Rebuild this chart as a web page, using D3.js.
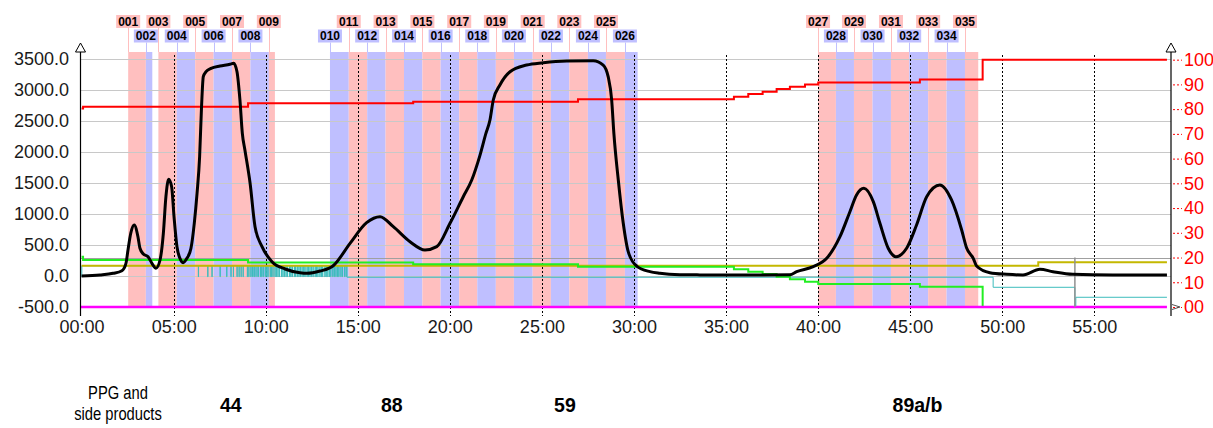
<!DOCTYPE html>
<html>
<head>
<meta charset="utf-8">
<script src="https://cdn.jsdelivr.net/npm/d3@7"></script>
<style>
  html, body { margin: 0; padding: 0; background: #fff; }
  svg { display: block; font-family: "Liberation Sans", Arial, sans-serif; }
</style>
</head>
<body>
<svg id="chart" width="1213" height="428"></svg>
<script>
// ---- Detector trace (left axis, mAU) ----
const signalTime = [0, 1.00, 1.71, 2.19, 2.41, 2.52, 2.67, 2.86, 3.06, 3.17, 3.35, 3.61, 3.82, 4.04, 4.26, 4.44, 4.58, 4.73, 4.89, 5.02, 5.18, 5.34, 5.51, 5.72, 5.94, 6.12, 6.27, 6.41, 6.51, 6.61, 6.76, 7.03, 7.52, 8.06, 8.26, 8.44, 8.60, 8.73, 8.87, 9.15, 9.42, 9.80, 10.34, 11.05, 11.86, 12.24, 12.95, 13.65, 14.58, 15.48, 16.21, 16.93, 17.84, 18.65, 19.29, 20.01, 20.73, 21.19, 21.64, 21.96, 22.18, 22.36, 22.72, 23.27, 24.17, 25.07, 26.35, 27.79, 28.33, 28.60, 28.79, 28.91, 29.15, 29.42, 29.69, 30.15, 30.87, 31.41, 32.50, 33.58, 36.30, 38.47, 38.84, 39.74, 40.47, 41.19, 41.73, 42.09, 42.49, 43.00, 43.36, 43.81, 44.23, 44.81, 45.35, 45.90, 46.62, 47.25, 47.80, 48.07, 48.43, 48.61, 49.33, 50.24, 51.13, 52.05, 52.76, 53.84, 56.01, 58.95];
const signalValue = [0, 16, 43, 86, 205, 419, 689, 823, 634, 447, 355, 311, 205, 124, 258, 689, 1279, 1560, 1440, 957, 473, 285, 215, 285, 447, 850, 1334, 1924, 2700, 3215, 3295, 3350, 3387, 3415, 3431, 3295, 2839, 2302, 2032, 1500, 795, 473, 231, 113, 53, 43, 80, 161, 527, 860, 957, 795, 553, 419, 473, 850, 1279, 1548, 1950, 2300, 2516, 2839, 3081, 3295, 3403, 3440, 3468, 3473, 3403, 3215, 2839, 2300, 1548, 850, 392, 161, 70, 43, 21, 18, 16, 21, 70, 150, 285, 634, 1037, 1307, 1415, 1199, 850, 447, 311, 447, 823, 1279, 1468, 1226, 742, 450, 285, 161, 53, 27, 16, 108, 69, 27, 16, 16];

// ---- Gradient %B (right axis), step program ----
const gradientTime = [0, 0.08, 9.04, 18.01, 26.96, 35.43, 36.21, 36.99, 37.75, 38.47, 39.29, 40.01, 45.53, 48.94, 58.95];
const gradientValue = [80.3, 81.0, 82.4, 83.0, 84.0, 85.0, 86.1, 87.0, 88.1, 89.1, 90.0, 90.8, 92.0, 100.0, 100.0];

// ---- Pressure trace (left axis) ----
const pressureTime = [0, 0.08, 9.04, 18.01, 26.96, 35.43, 36.21, 36.99, 37.75, 38.47, 39.29, 40.01, 45.53, 48.94, 58.95];
const pressureValue = [311, 258, 218, 189, 150, 108, 69, 32, -11, -53, -92, -129, -173, -484, -484];
const pressureEnd = 48.94;

// ---- Threshold trace (left axis) ----
const thresholdTime = [0, 51.96, 58.95];
const thresholdValue = [165, 221, 221];

// ---- Collector trace (left axis) ----
const collectorHigh = 165;
const collectorLow = -12;
const collectorDips = [0, 6.34, 6.85, 7.08, 7.52, 7.88, 8.11, 8.24, 8.44, 8.55, 8.66, 8.77,
  9.00, 9.08, 9.19, 9.27, 9.36, 9.41, 9.52, 9.60, 9.71, 9.78, 9.86, 9.97, 10.05, 10.12, 10.24, 10.31,
  10.39, 10.50, 10.57, 10.66, 10.74, 10.85, 10.93, 11.01, 11.10, 11.18, 11.29, 11.36, 11.44, 11.55,
  11.62, 11.71, 11.80, 11.88, 11.97, 12.06, 12.13, 12.24, 12.31, 12.40, 12.49, 12.57, 12.68, 12.75,
  12.83, 12.94, 13.02, 13.09, 13.21, 13.28, 13.37, 13.46, 13.53, 13.64, 13.72, 13.81, 13.90, 13.97,
  14.08, 14.16, 14.27, 14.36];
const collectorTailTime = [14.42, 49.51, 53.95, 54.00, 58.95];
const collectorTailValue = [-20, -182, -500, -343, -343];

// ---- Baseline marker (left axis) ----
const baselineValue = -500;
const markerTime = 53.95;

// ---- Fractions ----
const fractionIds = ["001","002","003","004","005","006","007","008","009","010","011","012","013","014","015","016","017","018","019","020","021","022","023","024","025","026","027","028","029","030","031","032","033","034","035"];
const fractionStart = [2.53, 3.49, 4.17, 5.17, 6.17, 7.17, 8.17, 9.17, 10.17, 13.49, 14.51, 15.51, 16.51, 17.51, 18.51, 19.50, 20.51, 21.49, 22.50, 23.48, 24.50, 25.49, 26.49, 27.50, 28.48, 29.51, 40.00, 40.97, 41.95, 42.96, 43.96, 44.95, 45.98, 46.98, 47.98];
const fractionEnd = [3.49, 3.84, 5.17, 6.17, 7.17, 8.17, 9.17, 10.17, 10.50, 14.51, 15.51, 16.51, 17.51, 18.51, 19.50, 20.51, 21.49, 22.50, 23.48, 24.50, 25.49, 26.49, 27.50, 28.48, 29.51, 30.20, 40.97, 41.95, 42.96, 43.96, 44.95, 45.98, 46.98, 47.98, 48.70];

// ---- Axes ----
const timeTicks = [0, 5, 10, 15, 20, 25, 30, 35, 40, 45, 50, 55];
const timeLabels = ["00:00","05:00","10:00","15:00","20:00","25:00","30:00","35:00","40:00","45:00","50:00","55:00"];
const leftTicks = [-500, 0, 500, 1000, 1500, 2000, 2500, 3000, 3500];
const rightTicks = [0, 10, 20, 30, 40, 50, 60, 70, 80, 90, 100];
const rightLabels = ["00","10","20","30","40","50","60","70","80","90","100"];
const rightGuide = 20;

// ---- Compound annotations ----
const compoundNames = ["44", "88", "59", "89a/b"];
const compoundTime = [8.1, 16.85, 26.25, 45.4];

const svg = d3.select("#chart");
const plotTop = 52, plotBottom = 307, axisLeftX = 80.5, axisRightX = 1171;

const x = d3.scaleLinear().domain([0, 59.17]).range([81.6, 1171]);
const yL = d3.scaleLinear().domain([-500, 3613]).range([plotBottom, plotTop]);
const yR = d3.scaleLinear().domain([0, 103.1]).range([plotBottom, plotTop]);

const PINK = "#ffbfbf", BLUE = "#bfbfff";

// fraction bands
const frac = fractionIds.map((id, i) => ({ id, s: fractionStart[i], e: fractionEnd[i], odd: i % 2 === 0 }));
svg.append("g").selectAll("rect").data(frac).join("rect")
  .attr("x", d => x(d.s)).attr("width", d => x(d.e) - x(d.s))
  .attr("y", plotTop).attr("height", plotBottom - plotTop)
  .attr("fill", d => d.odd ? PINK : BLUE);

// horizontal grid
svg.append("g").selectAll("line").data(leftTicks.filter(v => v > -500)).join("line")
  .attr("x1", axisLeftX).attr("x2", axisRightX)
  .attr("y1", d => Math.round(yL(d)) + 0.5).attr("y2", d => Math.round(yL(d)) + 0.5)
  .attr("stroke", "#c8c8c8").attr("stroke-width", 1);
svg.append("line")
  .attr("x1", axisLeftX).attr("x2", axisRightX)
  .attr("y1", Math.round(yR(rightGuide)) + 0.5).attr("y2", Math.round(yR(rightGuide)) + 0.5)
  .attr("stroke", "#a0a0a0").attr("stroke-width", 1);

// dotted time guides
svg.append("g").selectAll("line").data(timeTicks.filter(t => t > 0)).join("line")
  .attr("x1", d => Math.round(x(d)) + 0.5).attr("x2", d => Math.round(x(d)) + 0.5)
  .attr("y1", 55).attr("y2", 316)
  .attr("stroke", "#000").attr("stroke-width", 1).attr("stroke-dasharray", "2,2");

// fraction tags
const tagG = svg.append("g");
frac.forEach(d => {
  const cx = x(d.s);
  const cy = d.odd ? 21.5 : 36;
  tagG.append("line")
    .attr("x1", Math.round(cx) + 0.5).attr("x2", Math.round(cx) + 0.5)
    .attr("y1", cy + 6.5).attr("y2", plotTop)
    .attr("stroke", d.odd ? PINK : BLUE).attr("stroke-width", 1);
  tagG.append("rect")
    .attr("x", cx - 12).attr("y", cy - 6.5).attr("width", 24).attr("height", 13)
    .attr("fill", d.odd ? PINK : BLUE);
  tagG.append("text")
    .attr("x", cx).attr("y", cy + 4.3).attr("text-anchor", "middle")
    .attr("font-size", 12).attr("font-weight", "bold").attr("fill", "#000")
    .text(d.id);
});

const stepLine = (ys) => d3.line().x(d => x(d[0])).y(d => ys(d[1])).curve(d3.curveStepAfter);

// collector trace: high level with short dips, then tail levels
const collectorPts = [];
collectorDips.forEach(t => {
  collectorPts.push([t, collectorLow]);
  collectorPts.push([t + 0.012, collectorHigh]);
});
collectorTailTime.forEach((t, i) => collectorPts.push([t, collectorTailValue[i]]));
svg.append("path").attr("d", stepLine(yL)(collectorPts))
  .attr("fill", "none").attr("stroke", "#3cbcbc").attr("stroke-width", 1);

// threshold
svg.append("path").attr("d", stepLine(yL)(thresholdTime.map((t, i) => [t, thresholdValue[i]])))
  .attr("fill", "none").attr("stroke", "#c4b800").attr("stroke-width", 2);

// pressure
svg.append("path").attr("d", stepLine(yL)(pressureTime.map((t, i) => [t, pressureValue[i]]).filter(d => d[0] <= pressureEnd)))
  .attr("fill", "none").attr("stroke", "#22ee22").attr("stroke-width", 2);

// gradient
svg.append("path").attr("d", stepLine(yR)(gradientTime.map((t, i) => [t, gradientValue[i]])))
  .attr("fill", "none").attr("stroke", "#ff0000").attr("stroke-width", 2);

// baseline
svg.append("line")
  .attr("x1", axisLeftX).attr("x2", x(58.95))
  .attr("y1", yL(baselineValue)).attr("y2", yL(baselineValue))
  .attr("stroke", "#ff00ff").attr("stroke-width", 2.5);

// marker
svg.append("line")
  .attr("x1", x(markerTime)).attr("x2", x(markerTime))
  .attr("y1", yR(rightGuide)).attr("y2", yL(baselineValue))
  .attr("stroke", "#909090").attr("stroke-width", 1.5);

// detector trace
svg.append("path")
  .attr("d", d3.line().x(d => x(d[0])).y(d => yL(d[1])).curve(d3.curveMonotoneX)(signalTime.map((t, i) => [t, signalValue[i]])))
  .attr("fill", "none").attr("stroke", "#000").attr("stroke-width", 3).attr("stroke-linejoin", "round");

// axes
const leftAxis = d3.axisLeft(yL).tickValues(leftTicks).tickSize(0).tickPadding(11.5).tickFormat(d => d.toFixed(1));
const gl = svg.append("g").attr("transform", `translate(${axisLeftX},0)`).call(leftAxis);
gl.select(".domain").remove();
gl.selectAll("text").attr("font-size", 18).attr("fill", "#1a1a1a").attr("font-family", "Liberation Sans, Arial, sans-serif");

const rightAxis = d3.axisRight(yR).tickValues(rightTicks).tickSize(11).tickPadding(2).tickFormat((d, i) => rightLabels[i]);
const gr = svg.append("g").attr("transform", `translate(${axisRightX},0)`).call(rightAxis);
gr.select(".domain").remove();
gr.selectAll("line").attr("stroke", "#ff0000").attr("stroke-dasharray", "2,2").attr("x1", 2);
gr.selectAll("text").attr("font-size", 18).attr("fill", "#ff0000").attr("font-family", "Liberation Sans, Arial, sans-serif");

const bottomAxis = d3.axisBottom(x).tickValues(timeTicks).tickSize(0).tickPadding(13).tickFormat((d, i) => timeLabels[i]);
const gb = svg.append("g").attr("transform", `translate(0,${plotBottom})`).call(bottomAxis);
gb.select(".domain").remove();
gb.selectAll("text").attr("font-size", 18).attr("fill", "#1a1a1a").attr("font-family", "Liberation Sans, Arial, sans-serif");

// axis lines with open arrow heads
[axisLeftX, axisRightX].forEach(ax => {
  svg.append("line").attr("x1", ax).attr("x2", ax).attr("y1", plotTop).attr("y2", 316)
    .attr("stroke", "#000").attr("stroke-width", 1.2);
  svg.append("path").attr("d", `M${ax - 5},${plotTop} L${ax},${plotTop - 9} L${ax + 5},${plotTop} Z`)
    .attr("fill", "#fff").attr("stroke", "#000").attr("stroke-width", 1);
});
svg.append("path").attr("d", `M${axisRightX + 1},${yR(0) - 2.5} L${axisRightX + 9},${yR(0)} L${axisRightX + 1},${yR(0) + 2.5}`)
  .attr("fill", "none").attr("stroke", "#555").attr("stroke-width", 1);

// annotations below the axis
const noteG = svg.append("g").attr("fill", "#000");
const sideNote = noteG.append("g").attr("transform", "translate(118,0) scale(0.82,1)").attr("font-size", 18);
sideNote.append("text").attr("x", 0).attr("y", 399).attr("text-anchor", "middle").text("PPG and");
sideNote.append("text").attr("x", 0).attr("y", 420).attr("text-anchor", "middle").text("side products");
compoundNames.forEach((n, i) => {
  noteG.append("text").attr("x", x(compoundTime[i])).attr("y", 412).attr("text-anchor", "middle")
    .attr("font-size", 19.5).attr("font-weight", "bold").text(n);
});
</script>
</body>
</html>
